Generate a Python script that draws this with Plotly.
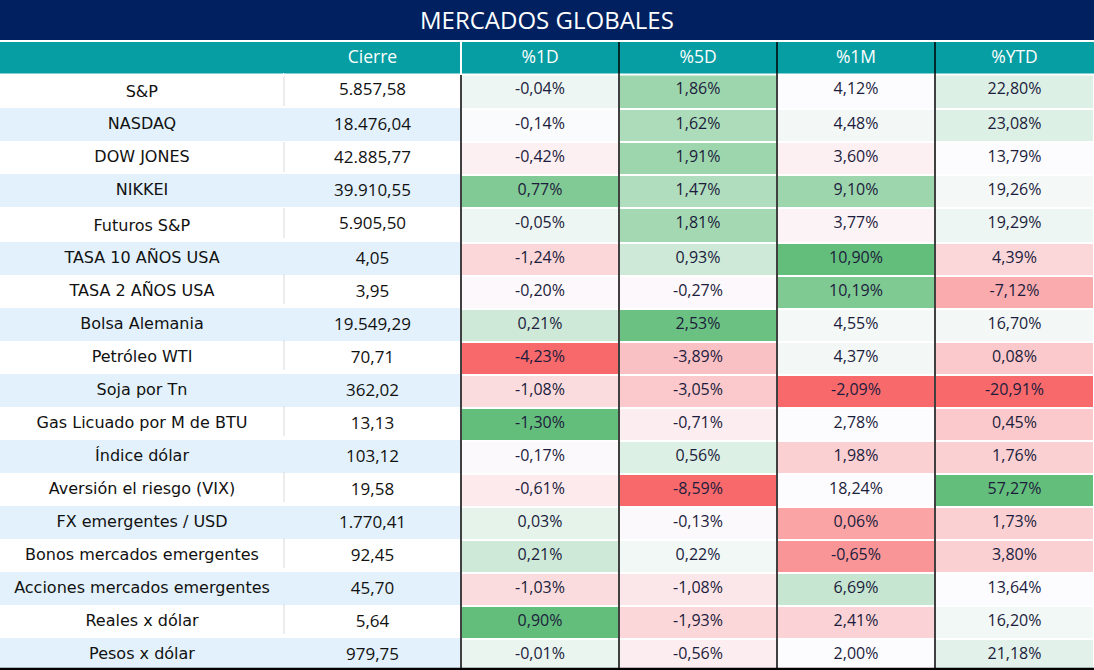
import plotly.graph_objects as go
import numpy as np

title = "MERCADOS GLOBALES"
headers = ["", "Cierre", "%1D", "%5D", "%1M", "%YTD"]
assets = ["S&P", "NASDAQ", "DOW JONES", "NIKKEI", "Futuros S&P", "TASA 10 AÑOS USA",
          "TASA 2 AÑOS USA", "Bolsa Alemania", "Petróleo WTI", "Soja por Tn",
          "Gas Licuado por M de BTU", "Índice dólar", "Aversión el riesgo (VIX)",
          "FX emergentes / USD", "Bonos mercados emergentes", "Acciones mercados emergentes",
          "Reales x dólar", "Pesos x dólar"]
cierre = ["5.857,58", "18.476,04", "42.885,77", "39.910,55", "5.905,50", "4,05", "3,95",
          "19.549,29", "70,71", "362,02", "13,13", "103,12", "19,58", "1.770,41", "92,45",
          "45,70", "5,64", "979,75"]
pct_1d = ["-0,04%", "-0,14%", "-0,42%", "0,77%", "-0,05%", "-1,24%", "-0,20%", "0,21%",
          "-4,23%", "-1,08%", "-1,30%", "-0,17%", "-0,61%", "0,03%", "0,21%", "-1,03%",
          "0,90%", "-0,01%"]
pct_5d = ["1,86%", "1,62%", "1,91%", "1,47%", "1,81%", "0,93%", "-0,27%", "2,53%",
          "-3,89%", "-3,05%", "-0,71%", "0,56%", "-8,59%", "-0,13%", "0,22%", "-1,08%",
          "-1,93%", "-0,56%"]
pct_1m = ["4,12%", "4,48%", "3,60%", "9,10%", "3,77%", "10,90%", "10,19%", "4,55%",
          "4,37%", "-2,09%", "2,78%", "1,98%", "18,24%", "0,06%", "-0,65%", "6,69%",
          "2,41%", "2,00%"]
pct_ytd = ["22,80%", "23,08%", "13,79%", "19,26%", "19,29%", "4,39%", "-7,12%", "16,70%",
           "0,08%", "-20,91%", "0,45%", "1,76%", "57,27%", "1,73%", "3,80%", "13,64%",
           "16,20%", "21,18%"]

# colour-scale intensity per cell as seen in the picture (-1 red ... 0 white ... +1 green)
shade_1d = [0.10, 0.02, -0.08, 0.80, 0.10, -0.25, -0.03, 0.30, -1.0, -0.22, 1.0, -0.02,
            -0.12, 0.15, 0.30, -0.22, 1.0, 0.12]
shade_5d = [0.62, 0.52, 0.62, 0.50, 0.58, 0.30, -0.03, 0.95, -0.40, -0.35, -0.10, 0.20,
            -1.0, -0.02, 0.07, -0.15, -0.25, -0.10]
shade_1m = [0.0, 0.06, -0.08, 0.62, -0.06, 1.0, 0.82, 0.05, 0.06, -1.0, 0.0, -0.30,
            0.0, -0.60, -0.70, 0.35, -0.28, 0.0]
shade_ytd = [0.20, 0.20, 0.0, 0.05, 0.10, -0.25, -0.55, 0.06, -0.35, -1.0, -0.35, -0.30,
             1.0, -0.30, -0.30, 0.0, 0.07, 0.17]

RED = np.array([248, 105, 107])
WHITE = np.array([252, 252, 255])
GREEN = np.array([99, 190, 123])


def shade_color(t):
    end = GREEN if t >= 0 else RED
    c = WHITE + (end - WHITE) * abs(t)
    return "rgb(%d,%d,%d)" % tuple(np.round(c).astype(int))


W, H = 1094, 670
col_px = [284, 177, 158, 158, 158, 159]
title_h, header_top, header_h, row_h = 40, 42, 32, 33
n = len(assets)
table_bottom = header_top + header_h + n * row_h

NAVY = "#002060"
TEAL = "#069EA3"
BAND = "#E3F1FC"
NAME_FONT = "DejaVu Sans"
NUM_FONT = "Open Sans"

band = ["white" if i % 2 == 0 else BAND for i in range(n)]
pct_cols = [pct_1d, pct_5d, pct_1m, pct_ytd]
shades = [shade_1d, shade_5d, shade_1m, shade_ytd]
fills = [band, band] + [[shade_color(t) for t in s] for s in shades]
line_cols = [band, band] + [["white"] * n for _ in shades]


def py(p):
    return 1 - p / H


fig = go.Figure(go.Table(
    domain=dict(x=[0, 1], y=[py(table_bottom), py(header_top)]),
    columnwidth=col_px,
    header=dict(values=headers, fill_color=TEAL, line=dict(color=TEAL, width=1),
                font=dict(family="Open Sans", size=17.5, color="white"), align="center",
                height=header_h),
    cells=dict(values=[assets, cierre] + pct_cols, fill_color=fills,
               line=dict(color=line_cols, width=2),
               font=dict(family=[NAME_FONT, NUM_FONT] + [NUM_FONT] * 4,
                         size=[16, 17, 16, 16, 16, 16],
                         color=["#111111", "#111111"] + ["#1c1c3c"] * 4),
               align="center", height=row_h),
))

edges = np.cumsum(col_px) / W
shapes = [dict(type="rect", xref="paper", yref="paper", x0=0, x1=1, y0=py(title_h), y1=1,
               fillcolor=NAVY, line=dict(width=0), layer="below")]
shapes.append(dict(type="line", xref="paper", yref="paper", x0=0, x1=1,
                   y0=py(header_top + header_h + 0.5), y1=py(header_top + header_h + 0.5),
                   line=dict(color="white", width=2)))
shapes.append(dict(type="line", xref="paper", yref="paper", x0=edges[1], x1=edges[1],
                   y0=py(header_top), y1=py(header_top + header_h),
                   line=dict(color="white", width=2)))
shapes.append(dict(type="line", xref="paper", yref="paper", x0=edges[1], x1=edges[1],
                   y0=py(header_top + header_h + 1), y1=py(table_bottom),
                   line=dict(color="black", width=1.5)))
for e in edges[2:5]:
    shapes.append(dict(type="line", xref="paper", yref="paper", x0=e, x1=e,
                       y0=py(header_top), y1=py(table_bottom),
                       line=dict(color="black", width=1.5)))
for i in range(0, n, 2):
    top = header_top + header_h + i * row_h
    shapes.append(dict(type="line", xref="paper", yref="paper", x0=edges[0], x1=edges[0],
                       y0=py(top + 2), y1=py(top + row_h - 1),
                       line=dict(color="#D9D9D9", width=1)))
shapes.append(dict(type="line", xref="paper", yref="paper", x0=0, x1=1,
                   y0=py(table_bottom + 1), y1=py(table_bottom + 1),
                   line=dict(color="black", width=2.5)))

fig.update_layout(
    width=W, height=H, margin=dict(l=0, r=0, t=0, b=0),
    paper_bgcolor="white", shapes=shapes,
    annotations=[dict(text=title, xref="paper", yref="paper", x=0.5, y=py(title_h / 2),
                      xanchor="center", yanchor="middle", showarrow=False,
                      font=dict(family="Open Sans", size=24, color="white"))],
)

fig.write_html("out.html", config={"displayModeBar": False},
               post_script="document.body.style.margin='0';")
